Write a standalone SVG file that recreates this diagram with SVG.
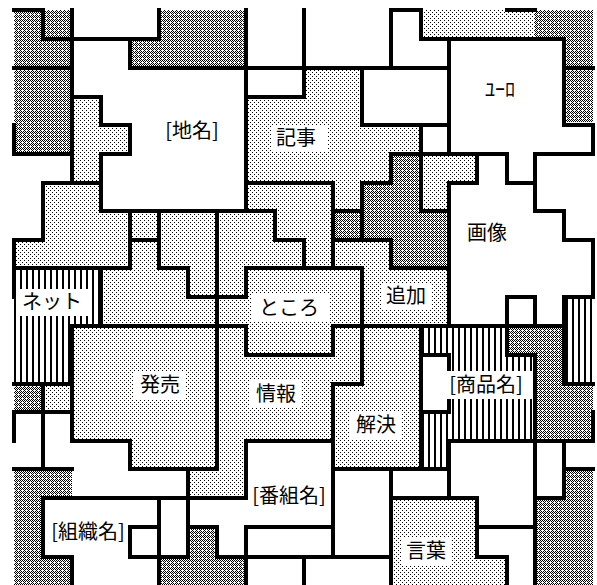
<svg xmlns="http://www.w3.org/2000/svg" width="597" height="585" viewBox="0 0 597 585">
<defs>
<pattern id="pd" width="4" height="4" patternUnits="userSpaceOnUse"><rect width="4" height="4" fill="#fff"/><path d="M0,0h1v1h-1zM2,0h1v1h-1zM1,1h1v1h-1zM3,1h1v1h-1zM0,2h1v1h-1zM1,3h1v1h-1zM3,3h1v1h-1z" fill="#000"/></pattern>
<pattern id="pl" width="4" height="4" patternUnits="userSpaceOnUse"><rect width="4" height="4" fill="#fff"/><rect x="0" y="0" width="1" height="1" fill="#000"/><rect x="2" y="2" width="1" height="1" fill="#000"/></pattern>
<pattern id="ps" width="6" height="6" patternUnits="userSpaceOnUse"><rect width="6" height="6" fill="#fff"/><rect x="2" y="0" width="2" height="6" fill="#000"/></pattern>
<style>
.d{fill:url(#pd)} .l{fill:url(#pl)} .s{fill:url(#ps)}
#lines path{fill:none;stroke:#000;stroke-width:4;stroke-linecap:square;stroke-linejoin:miter}
.bg{fill:#fff}
text{font-family:"Noto Sans CJK JP","Noto Sans",sans-serif;font-size:20px;fill:#000;text-anchor:middle}
</style>
</defs>
<rect width="597" height="585" fill="#fff"/>
<g id="fills">
<rect class="d" x="14" y="10" width="58" height="29"/><rect class="d" x="159" y="10" width="87" height="29"/><rect class="l" x="421" y="10" width="114" height="29"/><rect class="d" x="535" y="10" width="58" height="29"/>
<rect class="d" x="14" y="39" width="58" height="29"/><rect class="d" x="130" y="39" width="116" height="29"/><rect class="d" x="564" y="39" width="29" height="29"/>
<rect class="d" x="14" y="68" width="58" height="29"/><rect class="l" x="304" y="68" width="58" height="29"/><rect class="d" x="564" y="68" width="29" height="29"/>
<rect class="d" x="14" y="97" width="58" height="28"/><rect class="l" x="72" y="97" width="29" height="28"/><rect class="l" x="246" y="97" width="116" height="28"/><rect class="d" x="564" y="97" width="29" height="25"/>
<rect class="d" x="14" y="125" width="58" height="29"/><rect class="l" x="72" y="125" width="58" height="29"/><rect class="l" x="246" y="125" width="175" height="29"/>
<rect class="l" x="72" y="154" width="29" height="29"/><rect class="l" x="246" y="154" width="145" height="29"/><rect class="d" x="391" y="154" width="30" height="29"/><rect class="l" x="421" y="154" width="56" height="29"/>
<rect class="l" x="43" y="183" width="58" height="28"/><rect class="l" x="246" y="183" width="116" height="28"/><rect class="d" x="362" y="183" width="59" height="28"/><rect class="l" x="421" y="183" width="28" height="28"/>
<rect class="l" x="43" y="211" width="290" height="29"/><rect class="d" x="333" y="211" width="116" height="29"/>
<rect class="l" x="14" y="240" width="377" height="28"/><rect class="d" x="391" y="240" width="58" height="28"/>
<rect class="s" x="14" y="268" width="87" height="29"/><rect class="l" x="101" y="268" width="348" height="29"/>
<rect class="s" x="14" y="297" width="87" height="29"/><rect class="l" x="101" y="297" width="348" height="29"/><rect class="s" x="564" y="297" width="29" height="29"/>
<rect class="s" x="14" y="326" width="58" height="29"/><rect class="l" x="72" y="326" width="349" height="29"/><rect class="s" x="421" y="326" width="86" height="29"/><rect class="d" x="507" y="326" width="57" height="29"/><rect class="s" x="564" y="326" width="29" height="29"/>
<rect class="s" x="14" y="355" width="58" height="29"/><rect class="l" x="72" y="355" width="349" height="29"/><rect class="s" x="449" y="355" width="86" height="29"/><rect class="d" x="535" y="355" width="29" height="29"/><rect class="s" x="564" y="355" width="29" height="29"/>
<rect class="d" x="14" y="384" width="29" height="28"/><rect class="l" x="43" y="384" width="378" height="28"/><rect class="s" x="449" y="384" width="86" height="28"/><rect class="d" x="535" y="384" width="58" height="28"/>
<rect class="l" x="72" y="412" width="349" height="29"/><rect class="s" x="421" y="412" width="114" height="29"/><rect class="d" x="535" y="412" width="58" height="29"/>
<rect class="l" x="130" y="441" width="116" height="28"/><rect class="l" x="333" y="441" width="88" height="28"/><rect class="s" x="421" y="441" width="28" height="28"/>
<rect class="d" x="14" y="469" width="58" height="29"/><rect class="l" x="188" y="469" width="58" height="29"/><rect class="d" x="564" y="469" width="29" height="29"/>
<rect class="d" x="14" y="498" width="29" height="29"/><rect class="l" x="391" y="498" width="86" height="29"/><rect class="d" x="535" y="498" width="58" height="29"/>
<rect class="d" x="14" y="527" width="29" height="30"/><rect class="d" x="188" y="527" width="29" height="30"/><rect class="l" x="391" y="527" width="86" height="30"/><rect class="d" x="535" y="527" width="58" height="30"/>
<rect class="d" x="14" y="557" width="58" height="29"/><rect class="d" x="159" y="557" width="87" height="29"/><rect class="l" x="391" y="557" width="116" height="29"/><rect class="d" x="535" y="557" width="58" height="29"/>
</g>
<g id="lines">
<path d="M14,10 H43 V39 H159 V10"/>
<path d="M72,10 V183"/>
<path d="M14,68 H72"/>
<path d="M130,39 V68 H449"/>
<path d="M246,10 V211"/>
<path d="M304,10 V97 H246"/>
<path d="M391,68 V10 H421 V39 H564"/>
<path d="M507,10 H535"/>
<path d="M362,68 V125 H449"/>
<path d="M449,39 V154"/>
<path d="M564,39 V125 H593 V154"/>
<path d="M564,68 H593"/>
<path d="M391,154 H507 V183 H535 V154 H593"/>
<path d="M535,183 V211 H564 V240 H593 V297"/>
<path d="M421,125 V211 H449"/>
<path d="M449,183 V326"/>
<path d="M449,183 H477 V154"/>
<path d="M14,125 V154 H72"/>
<path d="M72,97 H101 V125 H130 V154 H101 V211"/>
<path d="M43,183 H101"/>
<path d="M43,183 V240 H14 V297"/>
<path d="M101,211 H275"/>
<path d="M130,211 V268"/>
<path d="M130,240 H159"/>
<path d="M159,211 V268"/>
<path d="M14,268 H130"/>
<path d="M159,268 H188 V297 H217"/>
<path d="M217,211 V469"/>
<path d="M275,211 V240 H304 V268"/>
<path d="M246,183 H333"/>
<path d="M362,183 H391 V154"/>
<path d="M333,183 V268"/>
<path d="M333,211 H362"/>
<path d="M333,240 H391"/>
<path d="M362,183 V240"/>
<path d="M362,268 V384"/>
<path d="M391,240 V268"/>
<path d="M246,268 H362"/>
<path d="M391,268 H449"/>
<path d="M246,268 V297 H217"/>
<path d="M101,268 V326"/>
<path d="M72,326 H246 V355 H333 V326 H564"/>
<path d="M72,326 V441"/>
<path d="M14,384 H72"/>
<path d="M43,384 V469"/>
<path d="M14,412 H72"/>
<path d="M14,412 V441"/>
<path d="M72,441 H130 V469 H217"/>
<path d="M188,469 V498"/>
<path d="M14,469 H72"/>
<path d="M43,498 H246"/>
<path d="M43,498 V557 H72 V586"/>
<path d="M130,527 H159"/>
<path d="M130,527 V557 H188"/>
<path d="M159,498 V586"/>
<path d="M188,498 V557"/>
<path d="M188,527 H217 V557 H391"/>
<path d="M246,441 V498"/>
<path d="M246,441 H333"/>
<path d="M333,384 V557"/>
<path d="M333,384 H362"/>
<path d="M246,527 H333"/>
<path d="M246,527 V586"/>
<path d="M304,557 V586"/>
<path d="M333,469 H449"/>
<path d="M391,469 V586"/>
<path d="M421,326 V469"/>
<path d="M421,355 H449 V412 H421"/>
<path d="M507,297 V355 H535"/>
<path d="M507,297 H535 V326"/>
<path d="M535,355 V586"/>
<path d="M564,297 V384 H593"/>
<path d="M564,297 H593"/>
<path d="M449,441 H593"/>
<path d="M449,441 V498"/>
<path d="M564,441 V498"/>
<path d="M564,469 H593"/>
<path d="M535,498 H564"/>
<path d="M391,498 H477 V557 H507 V586"/>
<path d="M477,527 H535"/>
<path d="M593,412 V441"/>
</g>
<g id="chimei"><text x="192" y="138">[地名]</text></g>
<g id="kiji"><rect class="bg" x="271" y="125" width="56" height="27"/><text x="296" y="145">記事</text></g>
<g id="euro"><text x="500" y="97">ﾕｰﾛ</text></g>
<g id="gazou"><text x="487" y="240">画像</text></g>
<g id="net"><rect class="bg" x="17" y="289" width="75" height="27"/><text x="52" y="309">ネット</text></g>
<g id="tokoro"><rect class="bg" x="252" y="294" width="77" height="28"/><text x="289" y="315">ところ</text></g>
<g id="tsuika"><rect class="bg" x="382" y="283" width="49" height="27"/><text x="406" y="303">追加</text></g>
<g id="hatsubai"><rect class="bg" x="134" y="371" width="52" height="28"/><text x="160" y="392">発売</text></g>
<g id="jouhou"><rect class="bg" x="250" y="380" width="52" height="28"/><text x="276" y="401">情報</text></g>
<g id="kaiketsu"><rect class="bg" x="350" y="411" width="52" height="28"/><text x="376" y="432">解決</text></g>
<g id="shouhinmei"><rect class="bg" x="443" y="371" width="90" height="28"/><text x="486" y="392">[商品名]</text></g>
<g id="bangumimei"><text x="289" y="503">[番組名]</text></g>
<g id="soshikimei"><text x="88" y="539">[組織名]</text></g>
<g id="kotoba"><rect class="bg" x="401" y="537" width="51" height="28"/><text x="426" y="558">言葉</text></g>
</svg>
